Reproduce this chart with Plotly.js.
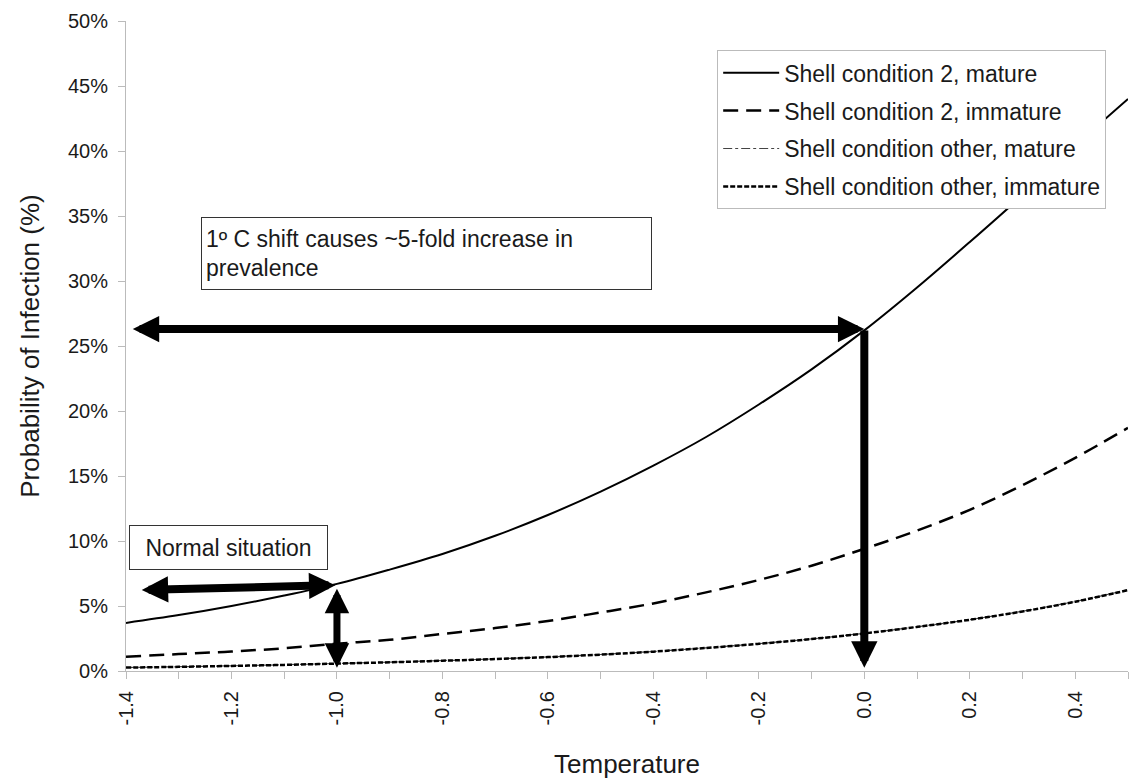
<!DOCTYPE html>
<html>
<head>
<meta charset="utf-8">
<script src="https://cdn.plot.ly/plotly-3.0.1.min.js"></script>
<style>html,body{margin:0;padding:0;background:#fff;}#chart{width:1132px;height:781px;}</style>
</head>
<body>
<div id="chart"></div>
<script>
// Temperature values (x)
const temperature = [-1.4,-1.3,-1.2,-1.1,-1.0,-0.9,-0.8,-0.7,-0.6,-0.5,-0.4,-0.3,-0.2,-0.1,0.0,0.1,0.2,0.3,0.4,0.5];
// Probability of infection (%)
const shell2Mature     = [3.7,4.3,5.0,5.8,6.7,7.8,9.0,10.4,12.0,13.8,15.8,18.0,20.5,23.2,26.2,29.5,33.0,36.6,40.4,44.0];
const shell2Immature   = [1.1,1.3,1.5,1.75,2.1,2.4,2.85,3.3,3.85,4.5,5.2,6.05,7.0,8.1,9.4,10.8,12.4,14.3,16.4,18.7];
const otherMature      = [0.27,0.33,0.40,0.48,0.58,0.68,0.80,0.93,1.08,1.27,1.50,1.78,2.10,2.47,2.90,3.40,3.95,4.60,5.35,6.25];
const otherImmature    = [0.26,0.32,0.39,0.47,0.57,0.67,0.79,0.92,1.07,1.26,1.49,1.77,2.09,2.46,2.89,3.39,3.94,4.58,5.33,6.22];
const seriesNames = ["Shell condition 2, mature","Shell condition 2, immature","Shell condition other, mature","Shell condition other, immature"];
// x-axis tick positions (every 0.1) and labels (every 0.2)
const xTickVals  = [-1.4,-1.3,-1.2,-1.1,-1.0,-0.9,-0.8,-0.7,-0.6,-0.5,-0.4,-0.3,-0.2,-0.1,0.0,0.1,0.2,0.3,0.4,0.5];
const xTickText  = ['-1.4','','-1.2','','-1.0','','-0.8','','-0.6','','-0.4','','-0.2','','0.0','','0.2','','0.4',''];

const FONT = '"Liberation Sans", Arial, sans-serif';
const TXT = '#1a1a1a';

const traces = [
  {x: temperature, y: shell2Mature, name: seriesNames[0], legendgroup:'a', mode:'lines', line:{color:'#000', width:2, dash:'solid', shape:'spline'}},
  {x: temperature, y: shell2Immature, name: seriesNames[1], legendgroup:'b', mode:'lines', line:{color:'#000', width:2.5, dash:'15px,8px', shape:'spline'}},
  {x: temperature, y: otherMature, name: seriesNames[2], legendgroup:'c', mode:'lines', line:{color:'#444', width:1.2, dash:'dashdot', shape:'spline'}},
  {x: temperature, y: otherImmature, name: seriesNames[3], legendgroup:'d', mode:'lines', line:{color:'#000', width:2.5, dash:'5px,2px', shape:'spline'}}
];

const arrowBase = {text:'', showarrow:true, xref:'x', yref:'y', axref:'x', ayref:'y', arrowcolor:'#000', arrowhead:2, startarrowhead:2, arrowwidth:8, arrowsize:0.66, startarrowsize:0.66};

const annotations = [
  Object.assign({}, arrowBase, {x:0.0, y:26.3, ax:-1.39, ay:26.3, arrowside:'end+start'}),
  Object.assign({}, arrowBase, {x:0.0, y:0.25, ax:0.0, ay:26.3, arrowside:'end'}),
  Object.assign({}, arrowBase, {x:-1.003, y:6.6, ax:-1.373, ay:6.23, arrowside:'end+start'}),
  Object.assign({}, arrowBase, {x:-1.0, y:0.25, ax:-1.0, ay:6.45, arrowside:'end+start', arrowwidth:7, arrowsize:0.7, startarrowsize:0.7}),
  {text:'1º C shift causes ~5-fold increase in<br>prevalence', showarrow:false, xref:'x', yref:'y', x:-1.258, y:34.92, xanchor:'left', yanchor:'top',
   align:'left', valign:'middle', width:441, height:63, borderpad:4, bordercolor:'#333', borderwidth:1, bgcolor:'#fff',
   font:{family:FONT, size:23, color:TXT}},
  {text:'Normal situation', showarrow:false, xref:'x', yref:'y', x:-1.394, y:11.23, xanchor:'left', yanchor:'top',
   align:'center', valign:'middle', width:189, height:35, borderpad:4, bordercolor:'#333', borderwidth:1, bgcolor:'#fff',
   font:{family:FONT, size:23, color:TXT}}
];

const layout = {
  width:1132, height:781,
  margin:{l:126, r:4, t:21, b:110},
  paper_bgcolor:'#fff', plot_bgcolor:'#fff',
  font:{family:FONT, color:TXT},
  showlegend:true,
  legend:{x:0.59, y:0.955, xanchor:'left', yanchor:'top', bgcolor:'#fff', bordercolor:'#bbb', borderwidth:1,
          font:{family:FONT, size:23, color:TXT}, tracegroupgap:5, traceorder:'grouped', itemwidth:56},
  xaxis:{range:[-1.4, 0.5], tickmode:'array', tickvals:xTickVals, ticktext:xTickText, tickangle:-90, ticks:'outside', ticklen:7, tickcolor:'#bbb',
         ticklabelstandoff:4,
         showline:true, linecolor:'#bbb', linewidth:1, showgrid:false, zeroline:false,
         tickfont:{family:FONT, size:20, color:TXT},
         title:{text:'Temperature', font:{family:FONT, size:26, color:TXT}, standoff:30}},
  yaxis:{range:[0,50], dtick:5, ticksuffix:'%', ticks:'outside', ticklen:7, tickcolor:'#bbb',
         ticklabelstandoff:6,
         showline:true, linecolor:'#bbb', linewidth:1, showgrid:false, zeroline:false,
         tickfont:{family:FONT, size:20, color:TXT},
         title:{text:'Probability of Infection (%)', font:{family:FONT, size:26, color:TXT}, standoff:20}},
  annotations: annotations
};

Plotly.newPlot('chart', traces, layout, {displayModeBar:false, staticPlot:true});
</script>
</body>
</html>
